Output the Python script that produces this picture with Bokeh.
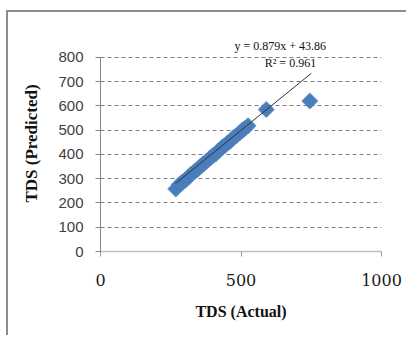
import math
from bokeh.plotting import figure
from bokeh.models import ColumnDataSource, FixedTicker, Label, Range1d
from bokeh.embed import file_html
from bokeh.resources import INLINE

# ---- data ----
tds_actual = [268, 280, 290, 300, 312, 322, 335, 345, 355, 365, 378, 390, 400,
              410, 420, 432, 442, 452, 462, 472, 482, 495, 505, 515, 525, 590, 745]
tds_predicted = [258, 275, 285, 292, 305, 318, 330, 338, 350, 360, 372, 385, 395,
                 402, 415, 428, 436, 447, 455, 468, 476, 488, 500, 508, 518, 585, 620]
trend_x = [267, 750]
trend_y = [280, 734]
x_ticks = [0, 500, 1000]
y_ticks = [0, 100, 200, 300, 400, 500, 600, 700, 800]
equation_text = "y = 0.879x + 43.86"
r2_text = "R² = 0.961"
x_title = "TDS (Actual)"
y_title = "TDS (Predicted)"

W, H = 400, 325
p = figure(width=W, height=H, output_backend="svg", toolbar_location=None,
           x_range=Range1d(0, 1000), y_range=Range1d(0, 890),
           min_border_left=92, min_border_right=27, min_border_top=23,
           min_border_bottom=86)
p.styles = {"border-left": "2px solid #8c8c8c", "border-top": "2px solid #8c8c8c",
            "margin": "10px 0px 0px 6px"}
p.outline_line_color = None
p.background_fill_color = "white"
p.border_fill_color = "white"

# grid
p.xgrid.grid_line_color = None
p.ygrid.grid_line_color = "#7f7f7f"
p.ygrid.grid_line_dash = "4 3"
p.ygrid.grid_line_width = 1
p.ygrid.ticker = FixedTicker(ticks=y_ticks[1:])

# axes
p.xaxis.ticker = FixedTicker(ticks=x_ticks)
p.yaxis.ticker = FixedTicker(ticks=y_ticks)
p.yaxis.bounds = (y_ticks[0], y_ticks[-1])
p.xaxis.minor_tick_line_color = None
p.yaxis.minor_tick_line_color = None
p.xaxis.axis_line_color = "#bfbfbf"
p.xaxis.axis_line_width = 1.5
p.xaxis.major_tick_line_color = "#9a9a9a"
p.xaxis.major_tick_in = 0
p.xaxis.major_tick_out = 5
p.yaxis.axis_line_color = "#868686"
p.yaxis.major_tick_line_color = "#868686"
p.yaxis.major_tick_in = 0
p.yaxis.major_tick_out = 5

p.xaxis.major_label_text_font = "DejaVu Serif"
p.xaxis.major_label_text_font_size = "16px"
p.xaxis.major_label_text_color = "#1a1a1a"
p.xaxis.major_label_standoff = 17
p.yaxis.major_label_text_font = "Liberation Sans"
p.yaxis.major_label_text_font_size = "15px"
p.yaxis.major_label_text_color = "#404040"
p.yaxis.major_label_standoff = 12

p.xaxis.axis_label = x_title
p.yaxis.axis_label = y_title
for ax in (p.xaxis, p.yaxis):
    ax.axis_label_text_font = "Liberation Serif"
    ax.axis_label_text_font_style = "bold"
    ax.axis_label_text_color = "#111111"
p.xaxis.axis_label_text_font_size = "16px"
p.yaxis.axis_label_text_font_size = "17px"
p.xaxis.axis_label_standoff = 14
p.yaxis.axis_label_standoff = 14

# points
src = ColumnDataSource(dict(x=tds_actual, y=tds_predicted))
p.scatter("x", "y", source=src, marker="square", size=11, angle=math.pi / 4,
          fill_color="#4a7ebb", line_color="#4a7ebb", line_width=1.5,
          line_alpha=0.6)

# trend line
p.line(trend_x, trend_y, line_color="#333333", line_width=1)

# equation labels (data units)
p.add_layout(Label(x=640, y=845, text=equation_text,
                   text_font="Liberation Serif", text_font_size="12px",
                   text_color="#111111", text_align="center", text_baseline="middle"))
p.add_layout(Label(x=676, y=775, text=r2_text,
                   text_font="Liberation Serif", text_font_size="12px",
                   text_color="#111111", text_align="center", text_baseline="middle"))

open("out.html", "w").write(file_html(p, INLINE))
